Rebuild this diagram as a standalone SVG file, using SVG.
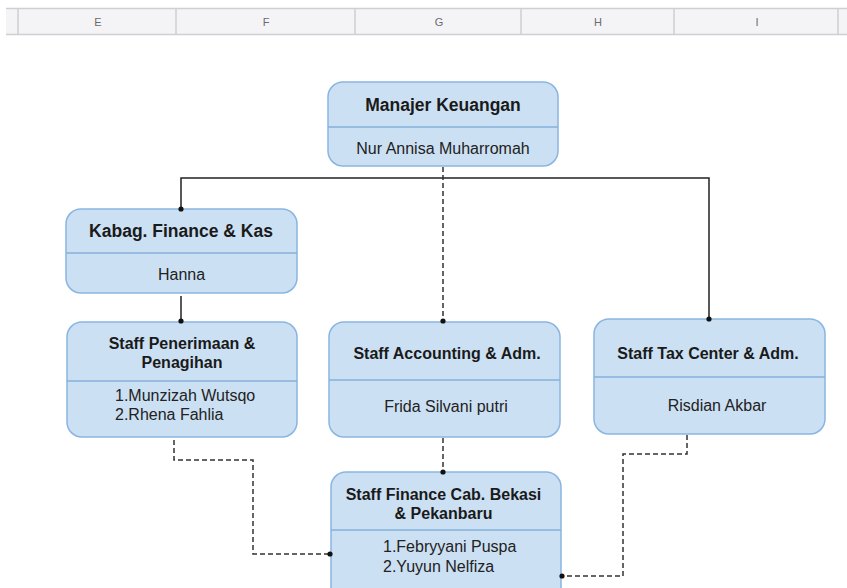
<svg xmlns="http://www.w3.org/2000/svg" width="847" height="588" viewBox="0 0 847 588">
<style>
.hdr{fill:#f4f4f7}
.hl{stroke:#cfcfd3;stroke-width:1.5;fill:none}
.col{font-family:"Liberation Sans",Arial,sans-serif;font-size:11px;fill:#6b6b6b;text-anchor:middle}
.box{fill:#cce0f3;stroke:#8ab5e2;stroke-width:1.5}
.div{stroke:#84b0dd;stroke-width:1.5}
.t{font-family:"Liberation Sans",Arial,sans-serif;font-weight:bold;fill:#1a1a1a;text-anchor:middle}
.n{font-family:"Liberation Sans",Arial,sans-serif;font-size:16px;fill:#222;text-anchor:middle}
.nl{font-family:"Liberation Sans",Arial,sans-serif;font-size:16px;fill:#222}
.solid{stroke:#222;stroke-width:1.5;fill:none}
.dash{stroke:#333;stroke-width:1.5;fill:none;stroke-dasharray:5 3}
.dot{fill:#111}
</style>
<rect width="847" height="588" fill="#ffffff"/>
<g id="header">
<rect class="hdr" x="6" y="8" width="841" height="26"/>
<line class="hl" x1="6" y1="8.5" x2="847" y2="8.5"/>
<line class="hl" x1="6" y1="34.5" x2="847" y2="34.5"/>
<g class="hl">
<line x1="18" y1="9" x2="18" y2="34"/>
<line x1="176" y1="9" x2="176" y2="34"/>
<line x1="355" y1="9" x2="355" y2="34"/>
<line x1="521" y1="9" x2="521" y2="34"/>
<line x1="674" y1="9" x2="674" y2="34"/>
<line x1="838" y1="9" x2="838" y2="34"/>
</g>
<text class="col" x="98" y="26">E</text>
<text class="col" x="266" y="26">F</text>
<text class="col" x="439" y="26">G</text>
<text class="col" x="598" y="26">H</text>
<text class="col" x="757" y="26">I</text>
</g>
<g id="manajer">
<rect class="box" x="328" y="82" width="230" height="84" rx="15"/>
<line class="div" x1="328" y1="127" x2="558" y2="127"/>
<text class="t" x="443" y="111" font-size="17.5">Manajer Keuangan</text>
<text class="n" x="443" y="154">Nur Annisa Muharromah</text>
</g>
<g id="kabag">
<rect class="box" x="66" y="209" width="231" height="84" rx="15"/>
<line class="div" x1="66" y1="253" x2="297" y2="253"/>
<text class="t" x="181" y="237" font-size="17.5">Kabag. Finance &amp; Kas</text>
<text class="n" x="181.5" y="280">Hanna</text>
</g>
<g id="penerimaan">
<rect class="box" x="67" y="322" width="230" height="115" rx="15"/>
<line class="div" x1="67" y1="381" x2="297" y2="381"/>
<text class="t" x="182" y="349" font-size="16">Staff Penerimaan &amp;</text>
<text class="t" x="182" y="368" font-size="16">Penagihan</text>
<text class="nl" x="115" y="401">1.Munzizah Wutsqo</text>
<text class="nl" x="115" y="420">2.Rhena Fahlia</text>
</g>
<g id="accounting">
<rect class="box" x="329" y="322" width="231" height="115" rx="15"/>
<line class="div" x1="329" y1="380" x2="560" y2="380"/>
<text class="t" x="447" y="359" font-size="16">Staff Accounting &amp; Adm.</text>
<text class="n" x="446" y="412">Frida Silvani putri</text>
</g>
<g id="tax">
<rect class="box" x="594" y="319" width="231" height="115" rx="15"/>
<line class="div" x1="594" y1="377" x2="825" y2="377"/>
<text class="t" x="708" y="359" font-size="16">Staff Tax Center &amp; Adm.</text>
<text class="n" x="717" y="411">Risdian Akbar</text>
</g>
<g id="finance-cab">
<rect class="box" x="331" y="472" width="230" height="130" rx="15"/>
<line class="div" x1="331" y1="530" x2="561" y2="530"/>
<text class="t" x="443.5" y="500" font-size="16">Staff Finance Cab. Bekasi</text>
<text class="t" x="443.5" y="519" font-size="16">&amp; Pekanbaru</text>
<text class="nl" x="383" y="552">1.Febryyani Puspa</text>
<text class="nl" x="383" y="572">2.Yuyun Nelfiza</text>
</g>
<g id="connectors">
<path class="solid" d="M181,209 V178 H709 V319"/>
<path class="dash" d="M443,167 V321"/>
<path class="solid" d="M181,296 V321"/>
<path class="dash" d="M174,440 V460 H253 V554 H330"/>
<path class="dash" d="M443,438 V472"/>
<path class="dash" d="M687,435 V454 H623 V576 H562"/>
<circle class="dot" cx="181" cy="209" r="2.6"/>
<circle class="dot" cx="709" cy="319" r="2.6"/>
<circle class="dot" cx="443" cy="321" r="2.6"/>
<circle class="dot" cx="181" cy="321" r="2.6"/>
<circle class="dot" cx="330" cy="554" r="2.6"/>
<circle class="dot" cx="443" cy="472" r="2.6"/>
<circle class="dot" cx="562" cy="576" r="2.6"/>
</g>
</svg>
